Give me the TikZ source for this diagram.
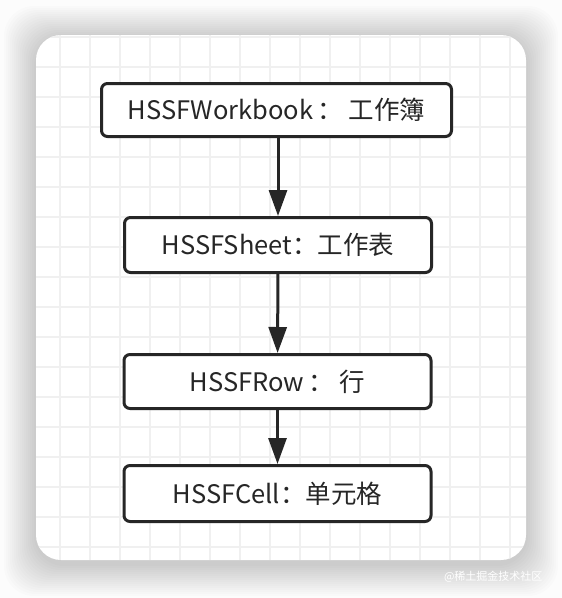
\documentclass[tikz,border=0pt]{standalone}
\usepackage{fontspec}
\setmainfont{Noto Sans CJK SC}
\usetikzlibrary{arrows.meta}
\tikzset{
  cls/.style={draw=black!85, line width=3pt, rounded corners=6pt, fill=white,
    minimum width=307pt, minimum height=55pt, inner sep=0pt,
    font=\fontsize{25.5}{30}\selectfont, text=black!85},
  link/.style={draw=black!85, line width=3pt, -{Triangle[width=18pt,length=26pt]}},
  gridline/.style={draw=black!6, line width=2pt}
}
\begin{document}
\begin{tikzpicture}[x=1pt,y=-1pt]
\useasboundingbox (0,0) rectangle (562,598);
\fill[black!1] (0,0) rectangle (562,598);
% shadow and card
\foreach \i in {1,...,16} {\fill[black, opacity=0.012, rounded corners=30pt] (36-2*\i,38-2*\i) rectangle (526+2*\i,564+2*\i);}
\fill[white, rounded corners=25pt] (36,35) rectangle (526,560);
\begin{scope}
\clip[rounded corners=25pt] (36,35) rectangle (526,560);
\foreach \x in {60,90,...,510} {\draw[gridline] (\x,35) -- (\x,560);}
\foreach \y in {37,67,...,547} {\draw[gridline] (36,\y) -- (526,\y);}
\end{scope}

\node[cls, minimum width=350pt, minimum height=53pt] (book) at (276.5,110) {HSSFWorkbook\,： 工作簿};
\node[cls] (sheet) at (278,245) {HSSFSheet：工作表};
\node[cls, minimum height=54pt] (row) at (277.5,381.5) {HSSFRow\,： 行};
\node[cls, minimum height=56pt] (cell) at (277.5,493.5) {HSSFCell：单元格};

\draw[link] (book.south -| sheet.north) -- (sheet.north);
\draw[link] (sheet) -- (row);
\draw[link] (row) -- (cell);

\node[anchor=east, text=white, font=\fontsize{11}{13}\selectfont] (mark) at (546,577) {@稀土掘金技术社区};
\end{tikzpicture}
\end{document}
